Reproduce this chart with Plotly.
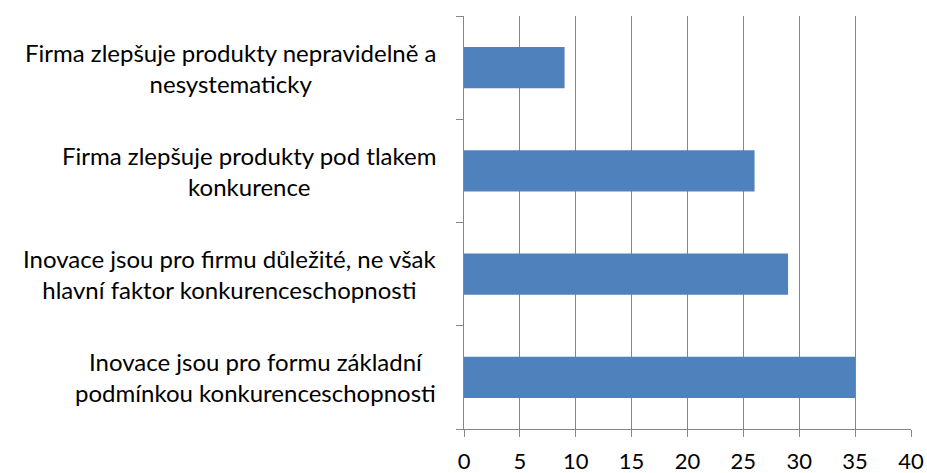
import plotly.graph_objects as go

categories = [
    "Inovace jsou pro formu základní<br>podmínkou konkurenceschopnosti",
    "Inovace jsou pro firmu důležité, ne však<br>hlavní faktor konkurenceschopnosti",
    "Firma zlepšuje produkty pod tlakem<br>konkurence",
    "Firma zlepšuje produkty nepravidelně a<br>nesystematicky",
]
values = [35, 29, 26, 9]
x_ticks = [0, 5, 10, 15, 20, 25, 30, 35, 40]

FONT = "Lato"
GRID = "#868686"

fig = go.Figure()
fig.add_trace(go.Bar(
    x=values, y=categories, orientation="h",
    marker=dict(color="#4F81BD", line=dict(width=0)),
    width=0.4,
))

for c in categories:
    fig.add_annotation(
        x=0, xref="paper", y=c, yref="y",
        text=c, showarrow=False, xanchor="right", yanchor="middle",
        align="center", xshift=-26,
        font=dict(family=FONT, size=24, color="#000000"),
    )

fig.update_layout(
    width=927, height=473,
    margin=dict(l=464, r=16, t=16, b=44, autoexpand=False),
    paper_bgcolor="white", plot_bgcolor="white",
    showlegend=False,
    bargap=0.6,
)
fig.update_xaxes(
    range=[0, 40], tickvals=x_ticks, ticktext=[str(v) for v in x_ticks],
    showgrid=True, gridcolor=GRID, gridwidth=1,
    showline=True, linecolor=GRID, linewidth=1,
    ticks="outside", ticklen=7, tickcolor=GRID,
    zeroline=False, automargin=False, ticklabelstandoff=6,
    tickfont=dict(family=FONT, size=22, color="#000000"),
)
fig.update_yaxes(
    type="category", categoryorder="array", categoryarray=categories,
    showticklabels=False, showgrid=False, automargin=False,
    showline=True, linecolor=GRID, linewidth=1,
    ticks="outside", ticklen=7, tickcolor=GRID, tickson="boundaries",
    range=[-0.5, 3.5],
)

fig.write_html(
    "out.html",
    config={"displayModeBar": False},
    post_script="document.body.style.margin='0';document.body.style.padding='0';",
)
